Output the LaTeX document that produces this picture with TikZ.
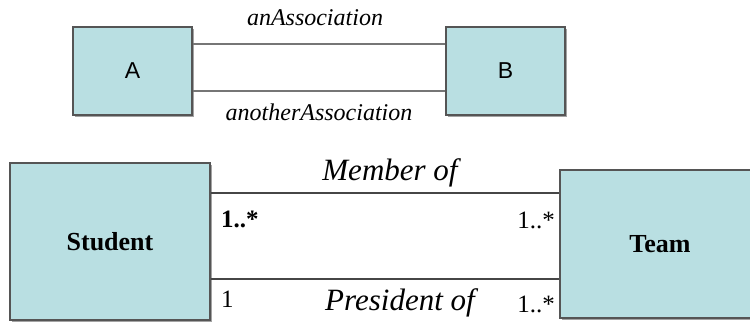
\documentclass[tikz,border=0pt]{standalone}
\usepackage{fontspec}
\setmainfont{Liberation Serif}
\newfontfamily\boxsans{Liberation Sans}
\usetikzlibrary{shadows}
\definecolor{boxfill}{HTML}{B9DFE2}
\definecolor{boxedge}{HTML}{555555}
\definecolor{lineA}{HTML}{767676}
\definecolor{lineB}{HTML}{464646}
\tikzset{
  classbox/.style={draw=boxedge, line width=1.4pt, fill=boxfill, inner sep=0pt,
    drop shadow={shadow xshift=1.6pt, shadow yshift=-1.8pt, fill=black!45, opacity=0.8}},
  assoc/.style={line width=2pt},
  lbl/.style={inner sep=0pt, anchor=base},
}
\begin{document}
\begin{tikzpicture}[x=1pt,y=1pt]
\useasboundingbox (0,0) rectangle (750,322);
\clip (0,0) rectangle (750,322);
% top diagram
\node[classbox, minimum width=119pt, minimum height=88pt] (A) at (132.5,251) {\boxsans\fontsize{23}{25}\selectfont A};
\node[classbox, minimum width=119pt, minimum height=88pt] (B) at (505.5,251) {\boxsans\fontsize{23}{25}\selectfont B};
\draw[assoc, lineA] ([yshift=27pt]A.east) -- ([yshift=27pt]B.west);
\draw[assoc, lineA] ([yshift=-20pt]A.east) -- ([yshift=-20pt]B.west);
\node[lbl] (l1) at (315,296) {\fontsize{24}{26}\selectfont\itshape anAssociation};
\node[lbl] (l2) at (319,201) {\fontsize{24}{26}\selectfont\itshape anotherAssociation};
% bottom diagram
\node[classbox, minimum width=200pt, minimum height=157pt] (S) at (110,80.5) {\fontsize{26}{28}\selectfont\bfseries Student};
\node[classbox, minimum width=200pt, minimum height=148pt] (T) at (660,78) {\fontsize{26}{28}\selectfont\bfseries Team};
\draw[assoc, lineB, line width=2.4pt] ([yshift=48.5pt]S.east) -- ([yshift=51pt]T.west);
\draw[assoc, lineB, line width=2.4pt] ([yshift=-37.5pt]S.east) -- ([yshift=-35pt]T.west);
\node[lbl] (m1) at (390,142) {\fontsize{31}{33}\selectfont\itshape Member of};
\node[lbl] (m2) at (400,12) {\fontsize{31}{33}\selectfont\itshape President of};
\node[inner sep=0pt, anchor=base west] (c1) at (221,95) {\fontsize{25}{27}\selectfont\bfseries 1..*};
\node[inner sep=0pt, anchor=base east] (c2) at (555,94) {\fontsize{25}{27}\selectfont 1..*};
\node[inner sep=0pt, anchor=base west] (c3) at (221,15) {\fontsize{25}{27}\selectfont 1};
\node[inner sep=0pt, anchor=base east] (c4) at (555,10) {\fontsize{25}{27}\selectfont 1..*};
\end{tikzpicture}
\end{document}
